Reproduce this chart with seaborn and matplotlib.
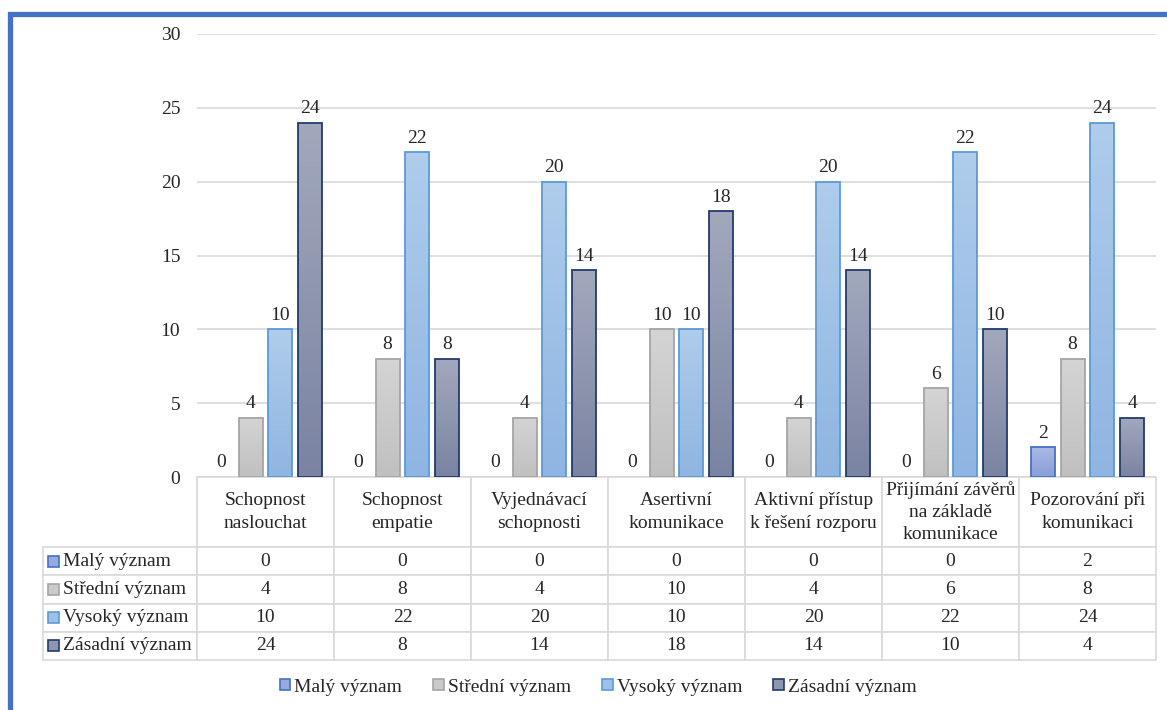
import matplotlib
matplotlib.use("Agg")
import matplotlib.pyplot as plt
import seaborn as sns
import numpy as np
import pandas as pd
from matplotlib.patches import Rectangle, Patch
from matplotlib.colors import LinearSegmentedColormap

categories = ["Schopnost\nnaslouchat", "Schopnost\nempatie", "Vyjednávací\nschopnosti",
              "Asertivní\nkomunikace", "Aktivní přístup\nk řešení rozporu",
              "Přijímání závěrů\nna základě\nkomunikace", "Pozorování při\nkomunikaci"]
series = ["Malý význam", "Střední význam", "Vysoký význam", "Zásadní význam"]
maly = [0, 0, 0, 0, 0, 0, 2]
stredni = [4, 8, 4, 10, 4, 6, 8]
vysoky = [10, 22, 20, 10, 20, 22, 24]
zasadni = [24, 8, 14, 18, 14, 10, 4]

fills = ["#95aade", "#cacaca", "#9fc1e7", "#8e96af"]
tops = ["#aab9e5", "#d4d4d4", "#afcceb", "#a2a8bc"]
bottoms = ["#879ed9", "#c0c0c0", "#8fb5e2", "#7a83a2"]
edges = ["#4472c4", "#a5a5a5", "#5b9bd5", "#223b6e"]

# long table for seaborn
values = [maly, stredni, vysoky, zasadni]
rows = []
for s, vals in zip(series, values):
    for c, v in zip(categories, vals):
        rows.append({"kategorie": c, "význam": s, "počet": v})
df = pd.DataFrame(rows)

sns.set_style("white")
plt.rcParams['font.family'] = ['Liberation Serif', 'DejaVu Serif']
FS = 14

W, H = 1167, 710
fig = plt.figure(figsize=(W / 100, H / 100), dpi=100)
ax = fig.add_axes([197 / W, 1 - 477 / H, 959 / W, 443 / H])

sns.barplot(data=df, x="kategorie", y="počet", hue="význam", palette=fills,
            width=0.87, gap=0.2, saturation=1, legend=False, ax=ax)

# vertical gradient inside each bar, like the Excel original
grad = np.linspace(0, 1, 64).reshape(-1, 1)
for cont, ec, top, bot in zip(ax.containers, edges, tops, bottoms):
    cmap = LinearSegmentedColormap.from_list("g", [bot, top])
    for bar in cont:
        h = bar.get_height()
        if h == 0:
            bar.set_visible(False)
            continue
        bar.set_edgecolor(ec)
        bar.set_linewidth(1.3)
        bar.set_facecolor("none")
        x0 = bar.get_x()
        img = ax.imshow(grad, cmap=cmap, aspect="auto", origin="lower",
                        extent=(x0, x0 + bar.get_width(), 0, h), zorder=bar.get_zorder() - 0.1)
        img.set_clip_path(bar)
    ax.bar_label(cont, fmt="%g", padding=4, fontsize=FS)

ax.set_xlim(-0.5, 6.5)
ax.set_ylim(0, 30)
ax.set_yticks(range(0, 31, 5))
ax.yaxis.grid(True, color="#d9d9d9", lw=1.2)
ax.set_axisbelow(True)
sns.despine(ax=ax, left=True, bottom=True)
ax.tick_params(axis="y", length=0, pad=12, labelsize=FS)
ax.tick_params(axis="x", length=0, labelbottom=False)
ax.set_xlabel("")
ax.set_ylabel("")

# data table under the chart
cells = [[""] + categories]
for s, vals in zip(series, values):
    cells.append([s] + [str(v) for v in vals])

tbl = ax.table(cellText=cells, colWidths=[154] + [137] * 7, cellLoc="center",
               bbox=[-154 / 959, -183 / 443, 1 + 154 / 959, 183 / 443])
tbl.auto_set_font_size(False)
tbl.set_fontsize(FS)
for (r, c), cell in tbl.get_celld().items():
    cell.set_height(70 if r == 0 else 28.25)
    cell.set_edgecolor("#d9d9d9")
    cell.set_linewidth(1.2)
    cell.get_text().set_linespacing(1.4)
    if c == 0:
        cell._loc = "left"
        cell.PAD = 20 / 154
        cell.get_text().set_ha("left")
tbl[0, 0].visible_edges = ""

# little colour keys in the row labels
for i, (f, ec) in enumerate(zip(fills, edges)):
    yc = 561 + i * 28.25
    ax.add_patch(Rectangle(((48 - 197) / 959, -(yc - 477 + 5.5) / 443), 11 / 959, 11 / 443,
                           transform=ax.transAxes, facecolor=f, edgecolor=ec, lw=1.2,
                           clip_on=False))

handles = [Patch(facecolor=f, edgecolor=ec, lw=1.2) for f, ec in zip(fills, edges)]
fig.legend(handles, series, loc="center", bbox_to_anchor=(598 / W, 1 - 687 / H), ncol=4,
           frameon=False, fontsize=FS, handlelength=0.55, handleheight=0.55,
           handletextpad=0.2, columnspacing=1.6)

# blue frame around the chart
fig.add_artist(Rectangle((10 / W, -0.1), 2, 1.1 - 14 / H, transform=fig.transFigure,
                         fill=False, edgecolor="#4472c4", lw=3.8))

fig.savefig("out.png", dpi=100, facecolor="white")
